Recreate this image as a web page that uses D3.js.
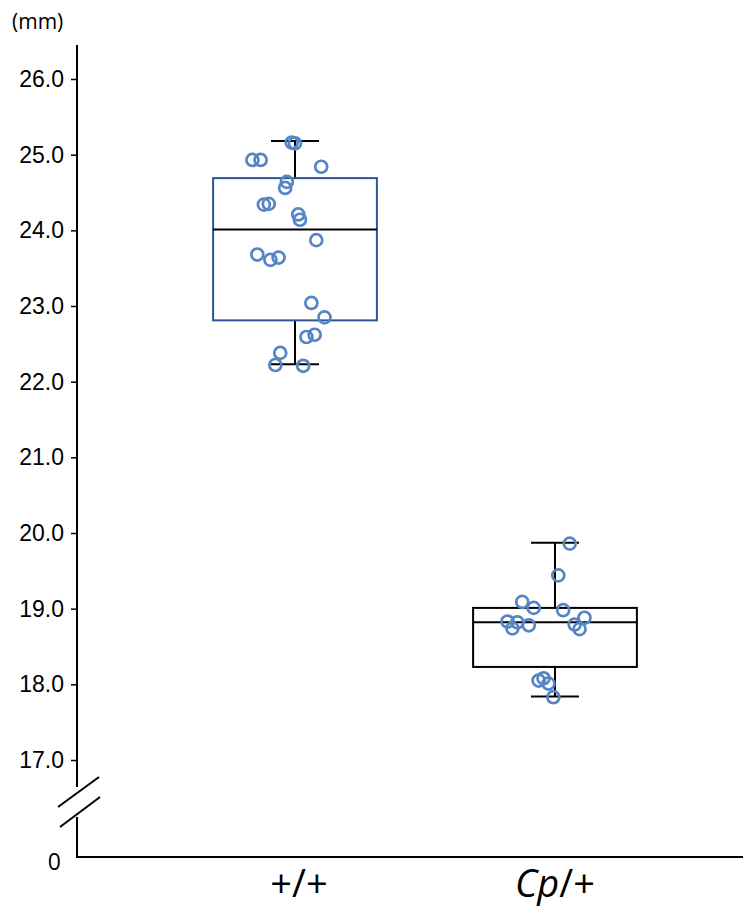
<!DOCTYPE html>
<html>
<head>
<meta charset="utf-8">
<script src="https://cdn.jsdelivr.net/npm/d3@7"></script>
<style>
  body { margin: 0; background: #fff; }
  svg { font-family: "Open Sans", "Noto Sans", sans-serif; }
</style>
</head>
<body>
<svg id="chart" width="743" height="910"></svg>
<script>
// genotype groups
const groups = ["+/+", "Cp/+"];

// box stats per group: [whiskerLow, q1, median, q3, whiskerHigh] (mm)
const boxStats = [
  [22.23, 22.81, 24.01, 24.69, 25.18],
  [17.84, 18.23, 18.82, 19.01, 19.87]
];

// individual measurements (mm)
const wildValues = [25.16, 25.15, 24.93, 24.93, 24.84, 24.64, 24.56, 24.34, 24.35, 24.21, 24.14,
  23.87, 23.68, 23.61, 23.64, 23.04, 22.85, 22.59, 22.62, 22.38, 22.22, 22.21];
const cpValues = [19.86, 19.44, 19.09, 19.01, 18.98, 18.88, 18.83, 18.82, 18.74, 18.78, 18.79,
  18.73, 18.05, 18.08, 18.01, 17.83];

// horizontal jitter of each point, as fraction of box width
const wildJitter = [-0.02, 0.0, -0.26, -0.21, 0.16, -0.05, -0.06, -0.19, -0.16, 0.02, 0.03,
  0.13, -0.23, -0.15, -0.1, 0.1, 0.18, 0.07, 0.12, -0.09, -0.12, 0.05];
const cpJitter = [0.09, 0.02, -0.2, -0.13, 0.05, 0.18, -0.29, -0.23, -0.26, -0.16, 0.12,
  0.15, -0.1, -0.07, -0.04, -0.01];

const yTicks = [17, 18, 19, 20, 21, 22, 23, 24, 25, 26];

const svg = d3.select("#chart");
const axisX = 77;
const baseY = 857;

const y = d3.scaleLinear().domain([17, 26]).range([760, 79]);
const x = d3.scaleBand().domain(groups).range([165, 685]);
const boxW = x.bandwidth() * 0.63;
const cxOf = g => x(g) + x.bandwidth() / 2;

// y axis (upper, broken part)
const yAxis = d3.axisLeft(y).tickValues(yTicks).tickFormat(d3.format(".1f")).tickSize(6).tickSizeOuter(0).tickPadding(7);
const gy = svg.append("g").attr("transform", `translate(${axisX},0)`).call(yAxis);
gy.select(".domain").remove();
gy.selectAll(".tick line").attr("stroke", "#000").attr("stroke-width", 1.5);
gy.selectAll(".tick text").attr("font-size", 23).attr("fill", "#000");

svg.append("line")
  .attr("x1", axisX).attr("x2", axisX)
  .attr("y1", 45).attr("y2", 787)
  .attr("stroke", "#000").attr("stroke-width", 2);

// break marks
svg.append("line").attr("x1", 58).attr("y1", 807).attr("x2", 99).attr("y2", 777)
  .attr("stroke", "#000").attr("stroke-width", 2);
svg.append("line").attr("x1", 60).attr("y1", 827).attr("x2", 100).attr("y2", 797)
  .attr("stroke", "#000").attr("stroke-width", 2);

// lower axis stub + x axis
svg.append("line").attr("x1", axisX).attr("x2", axisX).attr("y1", 817).attr("y2", baseY)
  .attr("stroke", "#000").attr("stroke-width", 2);
svg.append("line").attr("x1", axisX - 1).attr("x2", 743).attr("y1", baseY).attr("y2", baseY)
  .attr("stroke", "#000").attr("stroke-width", 2);

svg.append("text").attr("x", 61).attr("y", 870).attr("text-anchor", "end")
  .attr("font-size", 23).text("0");

svg.append("text").attr("x", 12).attr("y", 29).attr("font-size", 21).text("(mm)");

// category labels
const xl = svg.append("g");
xl.append("text").attr("x", cxOf(groups[0]) + 4).attr("y", 897)
  .attr("text-anchor", "middle").attr("font-size", 38).text(groups[0]);
const t2 = xl.append("text").attr("x", cxOf(groups[1])).attr("y", 897)
  .attr("text-anchor", "middle").attr("font-size", 38);
t2.append("tspan").attr("font-style", "italic").text("Cp");
t2.append("tspan").text("/+");

// boxes
const boxColors = ["#2f5597", "#000"];
const capW = 48;
boxStats.forEach((s, i) => {
  const cx = cxOf(groups[i]);
  const g = svg.append("g");
  g.append("line").attr("x1", cx).attr("x2", cx).attr("y1", y(s[3])).attr("y2", y(s[4]))
    .attr("stroke", "#000").attr("stroke-width", 2);
  g.append("line").attr("x1", cx).attr("x2", cx).attr("y1", y(s[1])).attr("y2", y(s[0]))
    .attr("stroke", "#000").attr("stroke-width", 2);
  g.append("line").attr("x1", cx - capW / 2).attr("x2", cx + capW / 2).attr("y1", y(s[4])).attr("y2", y(s[4]))
    .attr("stroke", "#000").attr("stroke-width", 2);
  g.append("line").attr("x1", cx - capW / 2).attr("x2", cx + capW / 2).attr("y1", y(s[0])).attr("y2", y(s[0]))
    .attr("stroke", "#000").attr("stroke-width", 2);
  g.append("rect").attr("x", cx - boxW / 2).attr("width", boxW)
    .attr("y", y(s[3])).attr("height", y(s[1]) - y(s[3]))
    .attr("fill", "none").attr("stroke", boxColors[i]).attr("stroke-width", 2);
  g.append("line").attr("x1", cx - boxW / 2).attr("x2", cx + boxW / 2).attr("y1", y(s[2])).attr("y2", y(s[2]))
    .attr("stroke", "#000").attr("stroke-width", 2);
});

// points
const pts = [];
wildValues.forEach((v, i) => pts.push({ g: groups[0], v: v, j: wildJitter[i] }));
cpValues.forEach((v, i) => pts.push({ g: groups[1], v: v, j: cpJitter[i] }));

svg.append("g").selectAll("circle")
  .data(pts)
  .enter()
  .append("circle")
  .attr("cx", d => cxOf(d.g) + d.j * boxW)
  .attr("cy", d => y(d.v))
  .attr("r", 6)
  .attr("fill", "none")
  .attr("stroke", "#5585c5")
  .attr("stroke-width", 2.7);
</script>
</body>
</html>
